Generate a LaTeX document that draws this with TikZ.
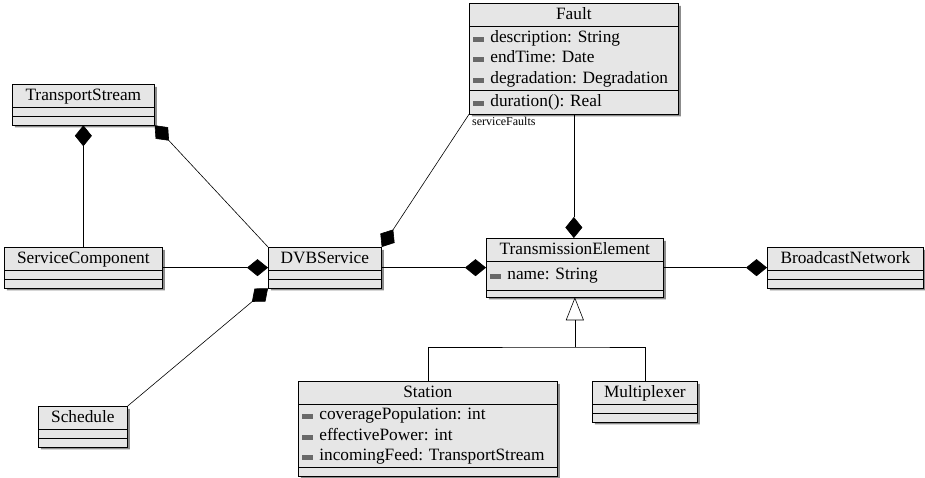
\documentclass[tikz,border=0pt]{standalone}
\usepackage{fontspec}
\setmainfont{Liberation Serif}
\usetikzlibrary{shapes.multipart,shadows,arrows.meta}

\definecolor{classFill}{RGB}{230,230,230}
\definecolor{shadowGray}{RGB}{140,140,140}
\definecolor{iconGray}{RGB}{105,105,105}

\newcommand{\classfont}{\fontsize{17.3}{20.5}\selectfont}
\newcommand{\attricon}{\textcolor{iconGray}{\rule[0.5pt]{11pt}{5pt}}\hspace{6pt}}
\newcommand{\noattrs}{\rule{0pt}{6pt}}

\tikzset{
  umlclass/.style={rectangle split, rectangle split parts=3,
    rectangle split part align={center,left,left},
    draw, line width=0.7pt, fill=classFill, anchor=north west,
    inner xsep=4pt, inner ysep=1pt, font=\classfont,
    drop shadow={shadow xshift=2.5pt, shadow yshift=-2.5pt,
      fill=shadowGray, opacity=1}},
  compose/.style={-{Diamond[length=21pt,width=17pt]}, line width=0.6pt},
  inherit/.style={-{Triangle[open,length=23pt,width=18pt]}, line width=0.6pt},
  rolelabel/.style={font=\fontsize{12}{14}\selectfont, inner sep=0pt}
}

\begin{document}
\begin{tikzpicture}[x=1pt,y=-1pt]
  \useasboundingbox (0,0) rectangle (925,478);

  % classes
  \node[umlclass, minimum width=209] (fault) at (469,3)
    {\strut Fault
     \nodepart{second}\begin{tabular}{@{}l@{}}
       \attricon description: String\\
       \attricon endTime: Date\\
       \attricon degradation: Degradation
     \end{tabular}
     \nodepart{third}\begin{tabular}{@{}l@{}}
       \attricon duration(): Real
     \end{tabular}};
  \node[umlclass, minimum width=142] (transportStream) at (12,84)
    {\strut TransportStream \nodepart{second}\noattrs \nodepart{third}\noattrs};
  \node[umlclass, minimum width=158] (serviceComponent) at (4,247)
    {\strut ServiceComponent \nodepart{second}\noattrs \nodepart{third}\noattrs};
  \node[umlclass, minimum width=113] (dvbService) at (268,247)
    {\strut DVBService \nodepart{second}\noattrs \nodepart{third}\noattrs};
  \node[umlclass, minimum width=89] (schedule) at (38,406)
    {\strut Schedule \nodepart{second}\noattrs \nodepart{third}\noattrs};
  \node[umlclass, minimum width=177] (transmissionElement) at (486,238)
    {\strut TransmissionElement
     \nodepart{second}\rule[-9pt]{0pt}{26pt}\attricon name: String
     \nodepart{third}\rule{0pt}{4pt}};
  \node[umlclass, minimum width=156] (broadcastNetwork) at (767,247)
    {\strut BroadcastNetwork \nodepart{second}\noattrs \nodepart{third}\noattrs};
  \node[umlclass, minimum width=259] (station) at (298,381)
    {\strut Station
     \nodepart{second}\renewcommand{\arraystretch}{0.98}\begin{tabular}{@{}l@{}}
       \attricon coveragePopulation: int\\
       \attricon effectivePower: int\\
       \attricon incomingFeed: TransportStream
     \end{tabular}
     \nodepart{third}\noattrs};
  \node[umlclass, minimum width=105] (multiplexer) at (592,381)
    {\strut Multiplexer \nodepart{second}\noattrs \nodepart{third}\noattrs};

  % role name
  \node[rolelabel, anchor=north west] (faultRole) at (472,117) {serviceFaults};

  % compositions
  \draw[compose] (serviceComponent.north -| transportStream.south) -- (transportStream.south);
  \draw[compose] (dvbService.north west) -- (transportStream.south east);
  \draw[compose] (serviceComponent.east) -- (dvbService.west);
  \draw[compose] (schedule.north east) -- (dvbService.south west);
  \draw[compose] (fault.south west) -- (dvbService.north east);
  \draw[compose] (dvbService.east) -- (dvbService.east -| transmissionElement.west);
  \draw[compose] (fault.south) -- (fault.south |- transmissionElement.north);
  \draw[compose] (transmissionElement.east) -- (transmissionElement.east -| broadcastNetwork.west);

  % generalisation
  \coordinate (genFork) at (transmissionElement.south |- 0,347);
  \draw[line width=0.6pt] (station.north) |- (genFork) -| (multiplexer.north);
  \draw[inherit] (genFork) -- (transmissionElement.south);
\end{tikzpicture}
\end{document}
